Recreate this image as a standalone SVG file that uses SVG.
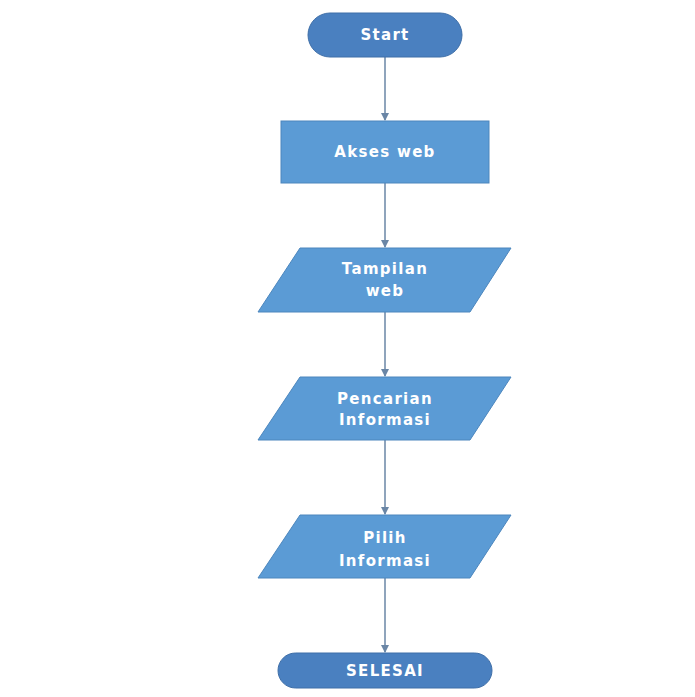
<svg xmlns="http://www.w3.org/2000/svg" width="695" height="697" viewBox="0 0 695 697">
<defs>
<marker id="ah" markerWidth="8" markerHeight="8" refX="7" refY="4" orient="auto" markerUnits="userSpaceOnUse">
<path d="M0,0 L8,4 L0,8 z" fill="#6a86a6"/>
</marker>
</defs>
<style>
.term{fill:#4a80c0;stroke:#3f6fa8;stroke-width:1}
.box{fill:#5b9bd5;stroke:#4c86bd;stroke-width:1}
.lbl{font-family:"DejaVu Sans",Verdana,sans-serif;font-size:15px;font-weight:bold;fill:#ffffff;text-anchor:middle;letter-spacing:1.3px}
.conn{stroke:#6a86a6;stroke-width:1.5;fill:none}
</style>
<rect width="695" height="697" fill="#ffffff"/>
<g id="connectors">
<line class="conn" x1="385" y1="57" x2="385" y2="120" marker-end="url(#ah)"/>
<line class="conn" x1="385" y1="183" x2="385" y2="247" marker-end="url(#ah)"/>
<line class="conn" x1="385" y1="312" x2="385" y2="376" marker-end="url(#ah)"/>
<line class="conn" x1="385" y1="440" x2="385" y2="514" marker-end="url(#ah)"/>
<line class="conn" x1="385" y1="578" x2="385" y2="652" marker-end="url(#ah)"/>
</g>
<g id="start">
<rect class="term" x="308" y="13" width="154" height="44" rx="22" ry="22"/>
<text class="lbl" x="385" y="40">Start</text>
</g>
<g id="akses">
<rect class="box" x="281" y="121" width="208" height="62"/>
<text class="lbl" x="385" y="157">Akses web</text>
</g>
<g id="tampilan">
<polygon class="box" points="300,248 511,248 470,312 258,312"/>
<text class="lbl" x="385" y="274">Tampilan</text>
<text class="lbl" x="385" y="296">web</text>
</g>
<g id="pencarian">
<polygon class="box" points="300,377 511,377 470,440 258,440"/>
<text class="lbl" x="385" y="404">Pencarian</text>
<text class="lbl" x="385" y="425">Informasi</text>
</g>
<g id="pilih">
<polygon class="box" points="300,515 511,515 470,578 258,578"/>
<text class="lbl" x="385" y="543">Pilih</text>
<text class="lbl" x="385" y="566">Informasi</text>
</g>
<g id="selesai">
<rect class="term" x="278" y="653" width="214" height="35" rx="17.5" ry="17.5"/>
<text class="lbl" x="385" y="676">SELESAI</text>
</g>
</svg>
